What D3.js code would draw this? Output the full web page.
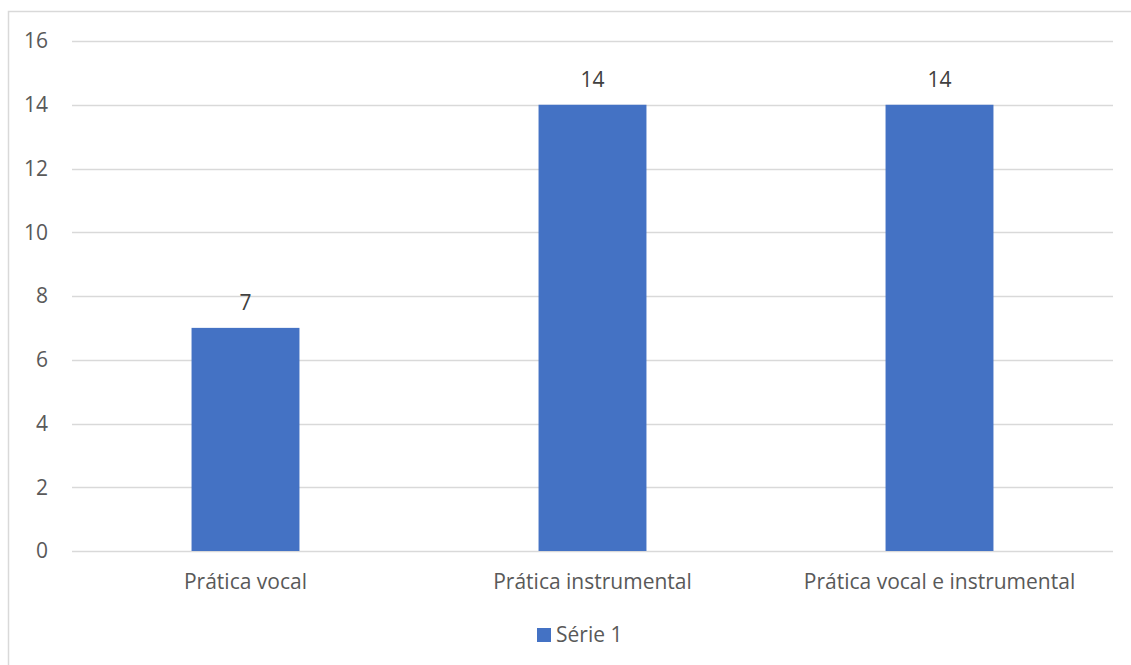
<!DOCTYPE html>
<html><head><meta charset="utf-8">
<script src="https://cdn.jsdelivr.net/npm/d3@7"></script>
<style>body{margin:0;background:#fff;}svg{display:block;}</style>
</head><body>
<script>
const categories = ["Prática vocal", "Prática instrumental", "Prática vocal e instrumental"];
const values = [7, 14, 14];
const yTicks = [0, 2, 4, 6, 8, 10, 12, 14, 16];
const seriesName = "Série 1";

(function () {
const W = 1131, H = 665;
const font = "'Open Sans', 'Liberation Sans', sans-serif";
const fs = 21;
const textColor = "#595959";
const svg = d3.select("body").append("svg").attr("width", W).attr("height", H);

svg.append("rect").attr("x", 8.5).attr("y", 11.5).attr("width", 1140).attr("height", 700)
  .attr("fill", "#fff").attr("stroke", "#d9d9d9").attr("stroke-width", 1.5);

const mLeft = 72, mRight = 1113, mTop = 41, mBottom = 551;
const x = d3.scaleBand().domain(categories).range([mLeft, mRight]).padding(0);
const y = d3.scaleLinear().domain([0, 16]).range([mBottom, mTop]);

svg.append("g").selectAll("line").data(yTicks).join("line")
  .attr("x1", mLeft).attr("x2", mRight)
  .attr("y1", d => Math.round(y(d)) + 0.5).attr("y2", d => Math.round(y(d)) + 0.5)
  .attr("stroke", "#d9d9d9").attr("stroke-width", 1.3);

svg.append("g").selectAll("text").data(yTicks).join("text")
  .attr("x", 48).attr("y", d => y(d)).attr("dy", "0.35em")
  .attr("text-anchor", "end").attr("font-family", font).attr("font-size", fs)
  .attr("fill", textColor).text(d => d);

const bw = x.bandwidth() * 0.311;
svg.append("g").selectAll("rect").data(values).join("rect")
  .attr("x", (d, i) => x(categories[i]) + x.bandwidth() / 2 - bw / 2)
  .attr("width", bw)
  .attr("y", d => y(d)).attr("height", d => y(0) - y(d))
  .attr("fill", "#4472C4");

svg.append("g").selectAll("text").data(values).join("text")
  .attr("x", (d, i) => x(categories[i]) + x.bandwidth() / 2)
  .attr("y", d => y(d) - 18)
  .attr("text-anchor", "middle").attr("font-family", font).attr("font-size", fs)
  .attr("fill", "#404040").text(d => d);

svg.append("g").selectAll("text").data(categories).join("text")
  .attr("x", d => x(d) + x.bandwidth() / 2).attr("y", 589)
  .attr("text-anchor", "middle").attr("font-family", font).attr("font-size", fs)
  .attr("fill", textColor).text(d => d);

svg.append("rect").attr("x", 537).attr("y", 628).attr("width", 14).attr("height", 14).attr("fill", "#4472C4");
svg.append("text").attr("x", 556).attr("y", 642).attr("font-family", font).attr("font-size", fs)
  .attr("fill", textColor).text(seriesName);
})();
</script>
</body></html>
